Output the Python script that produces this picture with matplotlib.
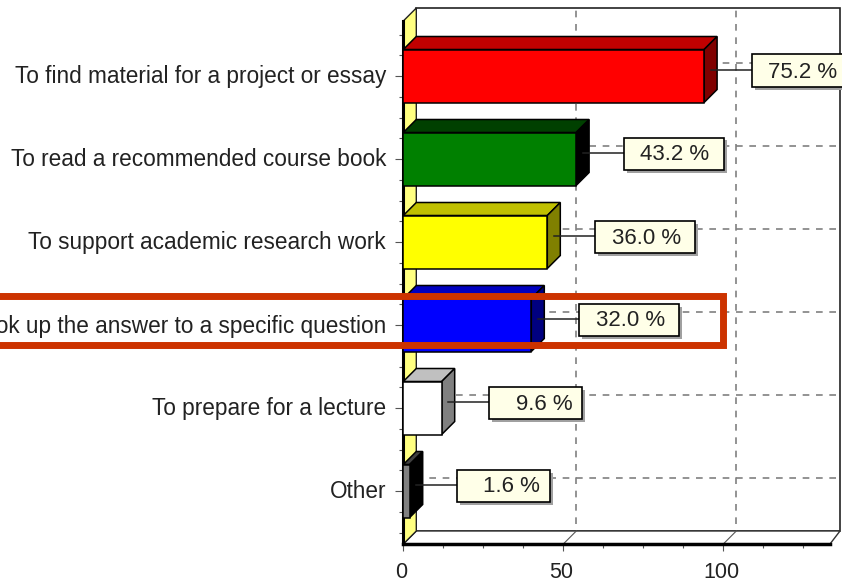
import matplotlib
matplotlib.use("Agg")
import matplotlib.pyplot as plt
from matplotlib.patches import Polygon, Rectangle
from matplotlib.transforms import ScaledTranslation

categories = ["Other", "To prepare for a lecture",
              "To look up the answer to a specific question",
              "To support academic research work",
              "To read a recommended course book",
              "To find material for a project or essay"]
bar_values = [2, 12, 40, 45, 54, 94]
labels = ["1.6 %", "9.6 %", "32.0 %", "36.0 %", "43.2 %", "75.2 %"]
front_colors = ["#808080", "#ffffff", "#0000ff", "#ffff00", "#008000", "#ff0000"]
top_colors = ["#404040", "#c0c0c0", "#0000c0", "#c0c000", "#004000", "#c00000"]
side_colors = ["#000000", "#808080", "#000080", "#808000", "#000000", "#800000"]
highlight_index = 2

W, H = 842, 583
plt.rcParams["font.family"] = ["Liberation Sans", "DejaVu Sans"]
fig = plt.figure(figsize=(W / 100, H / 100), dpi=100)
L, R, T, B = 403.3, 830.0, 21.0, 544.0
ax = fig.add_axes([L / W, 1 - B / H, (R - L) / W, (B - T) / H])
ppx = 3.2    # px per x unit
ppy = 83.0   # px per category
ax.set_xlim(0, (R - L) / ppx)
ax.set_ylim(-(B - 491) / ppy, (491 - T) / ppy)
dx, dy = 13 / ppx, 13 / ppy
bar_h = 53 / ppy
xmax = ax.get_xlim()[1]
ymin, ymax = ax.get_ylim()

ax.patch.set_alpha(0)
# back wall, floor, left wall
ax.add_patch(Polygon([(dx, ymin + dy), (xmax + dx - 3 / ppx, ymin + dy),
                      (xmax + dx - 3 / ppx, ymax + dy), (dx, ymax + dy)],
                     fc="white", ec="#222222", lw=1.2, clip_on=False, zorder=0))
ax.add_patch(Polygon([(0, ymin), (xmax, ymin), (xmax + dx - 3 / ppx, ymin + dy), (dx, ymin + dy)],
                     fc="white", ec="#333333", lw=1.0, clip_on=False, zorder=0.5))
ax.add_patch(Polygon([(0, ymin), (dx, ymin + dy), (dx, ymax + dy), (0, ymax)],
                     fc="#ffff80", ec="#222222", lw=1.0, clip_on=False, zorder=0.5))

# dashed grid on the back wall
for xv in (50, 100):
    ax.plot([xv + dx, xv + dx], [ymin + dy + 7 / ppy, ymax + dy], color="#808080", lw=1.2,
            ls=(0, (4, 4)), clip_on=False, zorder=1)
    ax.plot([xv, xv + dx], [ymin, ymin + dy], color="#555555", lw=0.8, clip_on=False, zorder=1)
for i in range(len(categories)):
    ax.plot([dx, xmax + dx - 3 / ppx], [i + dy, i + dy], color="#808080", lw=1.2,
            ls=(0, (4, 4)), clip_on=False, zorder=1)

# bars
for i, v in enumerate(bar_values):
    y0, y1 = i - bar_h / 2, i + bar_h / 2
    z = 3 + (len(categories) - i) * 0.01
    ax.barh(i, v, height=bar_h, color=front_colors[i], edgecolor="black", linewidth=1.1, zorder=z + 0.002)
    ax.add_patch(Polygon([(0, y1), (v, y1), (v + dx, y1 + dy), (dx, y1 + dy)],
                         fc=top_colors[i], ec="black", lw=1.1, zorder=z, clip_on=False))
    ax.add_patch(Polygon([(v, y0), (v + dx, y0 + dy), (v + dx, y1 + dy), (v, y1)],
                         fc=side_colors[i], ec="black", lw=1.1, zorder=z, clip_on=False))

# value labels with leader lines
for i, (v, lab) in enumerate(zip(bar_values, labels)):
    ly = i + dy / 2
    left = v + dx + 34.5 / ppx
    long_label = len(lab) == 6
    width = (100 if long_label else 93) / ppx
    bh = 32 / ppy
    cy = ly - 1 / ppy
    ax.plot([v + dx / 2, left], [ly, ly], color="#222222", lw=1.1, zorder=5, clip_on=False)
    ax.add_patch(Rectangle((left + 3 / ppx, cy - bh / 2 - 3 / ppy), width, bh, fc="#a0a0a0", ec="none",
                           zorder=5.5, clip_on=False))
    ax.add_patch(Rectangle((left, cy - bh / 2), width, bh, fc="#ffffe8", ec="black", lw=1.2,
                           zorder=6, clip_on=False))
    ax.text(left + width - (14 if long_label else 10) / ppx, cy - 1.5 / ppy, lab, ha="right", va="center",
            fontsize=16, color="#222222", zorder=7, clip_on=False)

# highlight rectangle
ax.add_patch(Rectangle((-500 / ppx, highlight_index - (344.8 - 325) / ppy),
                       (722.5 - L + 500) / ppx, 48.5 / ppy,
                       fc="none", ec="#cc3300", lw=5.0, zorder=8, clip_on=False, joinstyle="miter"))

# axes
for s in ("top", "right"):
    ax.spines[s].set_visible(False)
ax.spines["left"].set_linewidth(2.2)
ax.spines["bottom"].set_linewidth(2.5)
ax.set_yticks(range(len(categories)), categories, fontsize=16.3, color="#222222")
ax.set_yticks([k / 4 - 0.5 for k in range(25) if (k - 2) % 4 != 0], minor=True)
ax.set_xticks([0, 50, 100], ["0", "50", "100"], fontsize=15.5, color="#222222")
ax.set_xticks([12.5, 25, 37.5, 62.5, 75, 87.5, 112.5, 125], minor=True)
ax.tick_params(axis="y", which="major", length=5.5, width=0.8, color="#555555", pad=7)
ax.tick_params(axis="y", which="minor", length=3, width=0.8, color="#555555")
ax.tick_params(axis="x", which="major", length=5, width=0.8, color="#555555", pad=8)
ax.tick_params(axis="x", which="minor", length=3, width=0.8, color="#555555")

# small pixel nudges of the tick labels
shift_x = ScaledTranslation(-2 / 100, 0, fig.dpi_scale_trans)
shift_y = ScaledTranslation(0, 1.5 / 100, fig.dpi_scale_trans)
for t in ax.get_xticklabels():
    t.set_transform(t.get_transform() + shift_x)
for t in ax.get_yticklabels():
    t.set_transform(t.get_transform() + shift_y)

fig.savefig("out.png", dpi=100)
